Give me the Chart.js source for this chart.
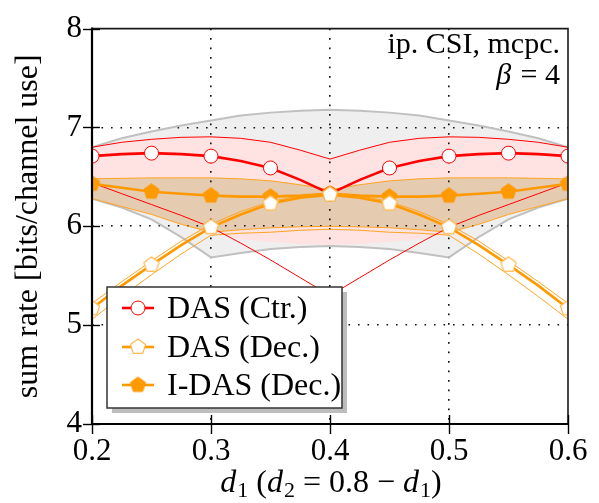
<!DOCTYPE html>
<html><head><meta charset="utf-8">
<script src="https://cdn.jsdelivr.net/npm/chart.js@4.4.1/dist/chart.umd.min.js"></script>
<style>html,body{margin:0;padding:0;background:#fff}#wrap{width:599px;height:503px;position:relative}</style>
</head><body><div id="wrap"><canvas id="c" width="599" height="503"></canvas></div>
<script>
// ---- data ----
const dValues = [0.2, 0.225, 0.25, 0.275, 0.3, 0.325, 0.35, 0.375, 0.4, 0.425, 0.45, 0.475, 0.5, 0.525, 0.55, 0.575, 0.6];
const dasCtr      = [6.71, 6.73, 6.74, 6.73, 6.71, 6.66, 6.59, 6.47, 6.33, 6.47, 6.59, 6.66, 6.71, 6.73, 6.74, 6.73, 6.71];
const dasCtrMax   = [6.80, 6.85, 6.88, 6.90, 6.905, 6.89, 6.85, 6.77, 6.68, 6.77, 6.85, 6.89, 6.905, 6.90, 6.88, 6.85, 6.80];
const dasCtrBand  = [6.28, 6.20, 6.12, 6.02, 5.93, 5.87, 5.84, 5.82, 5.81, 5.82, 5.84, 5.87, 5.93, 6.02, 6.12, 6.20, 6.28];
const dasCtrMin   = [6.44, 6.33, 6.22, 6.11, 5.99, 5.83, 5.66, 5.48, 5.30, 5.48, 5.66, 5.83, 5.99, 6.11, 6.22, 6.33, 6.44];
const envMax      = [6.80, 6.89, 6.96, 7.02, 7.07, 7.12, 7.15, 7.17, 7.18, 7.17, 7.15, 7.12, 7.07, 7.02, 6.96, 6.89, 6.80];
const envMin      = [6.28, 6.19, 6.07, 5.89, 5.685, 5.73, 5.77, 5.79, 5.80, 5.79, 5.77, 5.73, 5.685, 5.89, 6.07, 6.19, 6.28];
const idas        = [6.43, 6.39, 6.35, 6.33, 6.31, 6.30, 6.30, 6.31, 6.33, 6.31, 6.30, 6.30, 6.31, 6.33, 6.35, 6.39, 6.43];
const idasMax     = [6.48, 6.485, 6.49, 6.49, 6.49, 6.48, 6.46, 6.42, 6.37, 6.42, 6.46, 6.48, 6.49, 6.49, 6.49, 6.485, 6.48];
const idasMin     = [6.28, 6.20, 6.12, 6.02, 5.94, 5.965, 5.985, 5.995, 6.00, 5.995, 5.985, 5.965, 5.94, 6.02, 6.12, 6.20, 6.28];
const dasDec      = [5.17, 5.40, 5.61, 5.81, 5.99, 6.12, 6.23, 6.29, 6.32, 6.29, 6.23, 6.12, 5.99, 5.81, 5.61, 5.40, 5.17];
const dasDecMax   = [5.22, 5.44, 5.65, 5.85, 6.02, 6.15, 6.25, 6.31, 6.34, 6.31, 6.25, 6.15, 6.02, 5.85, 5.65, 5.44, 5.22];
const dasDecMin   = [5.06, 5.29, 5.51, 5.72, 5.91, 5.93, 5.94, 5.96, 5.97, 5.96, 5.94, 5.93, 5.91, 5.72, 5.51, 5.29, 5.06];

const seriesNames = ['DAS (Ctr.)', 'DAS (Dec.)', 'I-DAS (Dec.)'];
const xTickValues = [0.2, 0.3, 0.4, 0.5, 0.6];
const xTickLabels = ['0.2', '0.3', '0.4', '0.5', '0.6'];
const yTickValues = [4, 5, 6, 7, 8];
const yTickLabels = ['4', '5', '6', '7', '8'];
const yTitle = 'sum rate [bits/channel use]';
const xTitleParts = [['d','i'],['1','s'],[' (','r'],['d','i'],['2','s'],[' = 0.8 \u2212 ','r'],['d','i'],['1','s'],[')','r']];
const noteLine1 = 'ip. CSI, mcpc.';
const noteBeta = '\u03B2';
const noteLine2 = ' = 4';

// ---- styling ----
const SERIF = '"Liberation Serif", "Times New Roman", serif';
const RED = '#ff0000', ORANGE = '#ff9900', THIN_OR = '#ffa424', GRAYL = '#c0c0c0';

function makePentagon(fill, stroke, R, lw) {
  const s = Math.ceil(2 * R + lw + 4);
  const c = document.createElement('canvas'); c.width = s; c.height = s;
  const g = c.getContext('2d');
  const cx = s / 2, cy = s / 2;
  g.beginPath();
  for (let k = 0; k < 5; k++) {
    const a = -Math.PI / 2 + k * 2 * Math.PI / 5;
    const px = cx + R * Math.cos(a), py = cy + R * Math.sin(a);
    k ? g.lineTo(px, py) : g.moveTo(px, py);
  }
  g.closePath();
  g.fillStyle = fill; g.fill();
  g.lineWidth = lw; g.strokeStyle = stroke; g.lineJoin = 'miter'; g.stroke();
  return c;
}
const pentWhite = makePentagon('#ffffff', '#ffb84d', 8, 1.2);
const pentOrange = makePentagon(ORANGE, ORANGE, 8, 1);

const pts = arr => arr.map((v, i) => ({ x: dValues[i], y: v }));
const evenR = r => c => (c.dataIndex % 2 === 0 ? r : 0);
function thin(data, color, width, order, extra) {
  return Object.assign({ data: pts(data), borderColor: color, borderWidth: width, pointRadius: 0,
    fill: false, tension: 0, order: order, clip: 0 }, extra || {});
}

const datasets = [
  thin(envMax, GRAYL, 2, 20, { fill: { target: 1 }, backgroundColor: '#efefef' }),          // 0
  thin(envMin, GRAYL, 2, 20),                                                                  // 1
  thin(dasCtrMax, RED, 1, 19, { fill: { target: 3 }, backgroundColor: '#ffe3e3' }),          // 2
  thin(dasCtrBand, 'rgba(0,0,0,0)', 0, 19),                                                    // 3
  thin(dasDecMax, THIN_OR, 1, 18),                                                             // 4
  thin(dasDecMin, THIN_OR, 1, 18),                                                             // 5
  thin(idasMax, THIN_OR, 1, 17, { fill: { target: 7 }, backgroundColor: '#e5cbb0' }),        // 6
  thin(idasMin, THIN_OR, 1, 17),                                                               // 7
  thin(dasCtrMin, RED, 1, 16),                                                                 // 8
  { label: seriesNames[0], data: pts(dasCtr), borderColor: RED, borderWidth: 2.6, tension: 0, order: 3, clip: 0,
    pointRadius: evenR(7), pointStyle: 'circle', pointBackgroundColor: '#fff', pointBorderColor: RED, pointBorderWidth: 1, fill: false }, // 9
  { label: seriesNames[2], data: pts(idas), borderColor: ORANGE, borderWidth: 2.6, tension: 0, order: 2, clip: 0,
    pointRadius: evenR(8), pointStyle: c => (c.dataIndex % 2 === 0 ? pentOrange : 'circle'), fill: false }, // 10
  { label: seriesNames[1], data: pts(dasDec), borderColor: ORANGE, borderWidth: 2.6, tension: 0, order: 1, clip: 0,
    pointRadius: evenR(8), pointStyle: c => (c.dataIndex % 2 === 0 ? pentWhite : 'circle'), fill: false }  // 11
];
const legendOrder = [9, 11, 10];
const legendMarkers = [null, pentWhite, pentOrange];

const decor = {
  id: 'decor',
  afterDatasetsDraw(chart) {
    const { ctx, chartArea: a, scales: { x, y } } = chart;
    ctx.save();
    ctx.strokeStyle = '#1a1a1a';
    ctx.lineWidth = 1.6;
    ctx.beginPath(); ctx.moveTo(a.left, a.top); ctx.lineTo(a.right, a.top); ctx.lineTo(a.right, a.bottom); ctx.stroke();
    ctx.strokeStyle = '#000'; ctx.lineWidth = 2.2;
    ctx.beginPath(); ctx.moveTo(a.left, a.top - 1); ctx.lineTo(a.left, a.bottom); ctx.lineTo(a.right + 1, a.bottom); ctx.stroke();
    ctx.lineWidth = 1.4;
    yTickValues.forEach(v => { const py = Math.round(y.getPixelForValue(v)) + 0.5;
      ctx.beginPath(); ctx.moveTo(a.left - 9, py); ctx.lineTo(a.left + 8, py); ctx.stroke(); });
    xTickValues.forEach(v => { const px = Math.round(x.getPixelForValue(v)) + 0.5;
      ctx.beginPath(); ctx.moveTo(px, a.bottom - 9); ctx.lineTo(px, a.bottom + 10); ctx.stroke(); });
    ctx.restore();
  },
  afterDraw(chart) {
    const { ctx, chartArea: a } = chart;
    ctx.save();
    ctx.fillStyle = '#000';
    // y title
    ctx.save();
    ctx.font = '32px ' + SERIF;
    ctx.translate(37, (a.top + a.bottom) / 2);
    ctx.rotate(-Math.PI / 2);
    ctx.textAlign = 'center'; ctx.textBaseline = 'alphabetic';
    ctx.fillText(yTitle, 0, 0);
    ctx.restore();
    // x title
    const fonts = { i: 'italic 32px ' + SERIF, r: '32px ' + SERIF, s: '22px ' + SERIF };
    let total = 0;
    xTitleParts.forEach(p => { ctx.font = fonts[p[1]]; total += ctx.measureText(p[0]).width + (p[1] === 'i' ? 1 : 0); });
    let cx = 331 - total / 2;
    const by = 492;
    ctx.textAlign = 'left'; ctx.textBaseline = 'alphabetic';
    xTitleParts.forEach(p => { ctx.font = fonts[p[1]]; ctx.fillText(p[0], cx, p[1] === 's' ? by + 5 : by);
      cx += ctx.measureText(p[0]).width + (p[1] === 'i' ? 1 : 0); });
    // note top right
    ctx.textAlign = 'right';
    ctx.font = '30px ' + SERIF;
    ctx.fillText(noteLine1, a.right - 8, 53);
    ctx.fillText(noteLine2, a.right - 8, 84);
    const w2 = ctx.measureText(noteLine2).width;
    ctx.font = 'italic 30px ' + SERIF;
    ctx.fillText(noteBeta, a.right - 10 - w2, 84);
    // legend
    const L = 107, T = 287, R = 342, B = 408;
    ctx.fillStyle = '#bdbdbd'; ctx.fillRect(L + 5, T + 5, R - L, B - T);
    ctx.fillStyle = '#fff'; ctx.fillRect(L, T, R - L, B - T);
    ctx.strokeStyle = '#333'; ctx.lineWidth = 1.5; ctx.strokeRect(L, T, R - L, B - T);
    const rows = [308, 347, 385];
    legendOrder.forEach((di, k) => {
      const ds = chart.data.datasets[di];
      const yy = rows[k];
      ctx.strokeStyle = ds.borderColor; ctx.lineWidth = 2.6;
      ctx.beginPath(); ctx.moveTo(122, yy); ctx.lineTo(154, yy); ctx.stroke();
      if (legendMarkers[k]) {
        const im = legendMarkers[k]; ctx.drawImage(im, 138 - im.width / 2, yy - im.height / 2);
      } else {
        ctx.beginPath(); ctx.arc(138, yy, 7, 0, Math.PI * 2); ctx.fillStyle = '#fff'; ctx.fill();
        ctx.lineWidth = 1; ctx.strokeStyle = RED; ctx.stroke();
      }
      ctx.fillStyle = '#000'; ctx.font = '32px ' + SERIF; ctx.textAlign = 'left'; ctx.textBaseline = 'alphabetic';
      ctx.fillText(ds.label, 167, yy + 10);
    });
    ctx.restore();
  }
};

const gridColor = n => c => (c.index === 0 || c.index === n - 1) ? 'rgba(0,0,0,0)' : '#111';

new Chart(document.getElementById('c'), {
  type: 'line',
  data: { datasets },
  plugins: [decor],
  options: {
    responsive: false, animation: false, devicePixelRatio: 1, events: [],
    layout: { padding: { left: 0, top: 23, right: 31, bottom: 0 } },
    plugins: { legend: { display: false }, tooltip: { enabled: false }, filler: { drawTime: 'beforeDraw', propagate: false } },
    scales: {
      x: { type: 'linear', min: 0.2, max: 0.6,
        afterBuildTicks: s => { s.ticks = xTickValues.map(v => ({ value: v })); },
        afterFit: s => { s.height = 79; },
        grid: { color: gridColor(xTickValues.length), lineWidth: 1.6, drawTicks: false },
        border: { display: false, dash: [1.6, 7.9] },
        ticks: { callback: (v, i) => xTickLabels[i], font: { family: SERIF, size: 31 }, color: '#000', padding: 9, maxRotation: 0, autoSkip: false } },
      y: { type: 'linear', min: 4, max: 8,
        afterBuildTicks: s => { s.ticks = yTickValues.map(v => ({ value: v })); },
        afterFit: s => { s.width = 92; },
        grid: { color: gridColor(yTickValues.length), lineWidth: 1.6, drawTicks: false },
        border: { display: false, dash: [1.6, 7.9] },
        ticks: { callback: (v, i) => yTickLabels[i], font: { family: SERIF, size: 31 }, color: '#000', padding: 10 } }
    }
  }
});
</script></body></html>
